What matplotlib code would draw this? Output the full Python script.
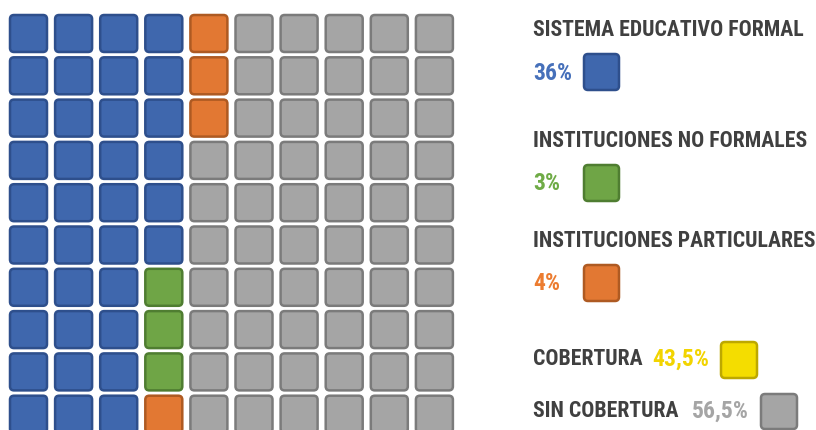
import matplotlib
matplotlib.use("Agg")
import matplotlib.pyplot as plt
from matplotlib.patches import FancyBboxPatch
from matplotlib import font_manager

# Data
categories = ["SISTEMA EDUCATIVO FORMAL", "INSTITUCIONES NO FORMALES",
              "INSTITUCIONES PARTICULARES", "SIN COBERTURA"]
cells = [36, 3, 4, 57]
pct_labels = ["36%", "3%", "4%"]
coverage_labels = ["COBERTURA", "SIN COBERTURA"]
coverage_values = ["43,5%", "56,5%"]

fills = ["#3F67AD", "#6FA546", "#E27833", "#A5A5A5"]
edges = ["#2E4F8C", "#4F7D31", "#AE5A22", "#7B7B7B"]
text_cols = ["#4670BA", "#6FAB46", "#EC7C30", "#A5A5A5"]
yellow_fill, yellow_edge, yellow_text = "#F4DD00", "#BDA800", "#F2D400"
dark = "#404040"


def pick_font():
    """Look for a narrow bold face, else fall back to DejaVu Sans bold"""
    files = [f.fname for f in font_manager.fontManager.ttflist]
    for key in ["OpenSansCondensed-Bold", "OpenSans_Condensed-Bold", "RobotoCondensed-Bold",
                "LiberationSansNarrow-Bold.", "DejaVuSansCondensed-Bold."]:
        for fn in files:
            if key in fn.replace(" ", ""):
                return font_manager.FontProperties(fname=fn)
    return font_manager.FontProperties(family="DejaVu Sans", weight="bold", stretch="condensed")


fp = pick_font()


def box(ax, x, y, w, h, fc, ec):
    ax.add_patch(FancyBboxPatch((x, y), w, h, boxstyle="round,pad=0,rounding_size=4",
                                fc=fc, ec=ec, lw=1.8))


fig = plt.figure(figsize=(8.16, 4.31), dpi=100)
ax = fig.add_axes([0, 0, 1, 1])
ax.set_xlim(0, 816)
ax.set_ylim(431, 0)
ax.axis("off")

# waffle grid, filled column by column
x0, y0, dx, dy, size = 10, 16, 45.1, 42.3, 37
k = 0
for cat, n in enumerate(cells):
    for _ in range(n):
        col, row = divmod(k, 10)
        box(ax, x0 + col * dx, y0 + row * dy, size, size, fills[cat], edges[cat])
        k += 1

# size the font so the first title spans about 272 px like the original
probe = ax.text(533, 30, categories[0], fontproperties=fp, fontsize=15.5)
fig.canvas.draw()
w = probe.get_window_extent().width
fs = 15.5 * 272 / w
probe.remove()


def label(x, y, s, c, scale=1.0):
    ax.text(x, y, s, fontproperties=fp, fontsize=fs * scale, color=c, va="center", ha="left")


# legend
tx = 533
title_y = [30, 141, 241]
for i in range(3):
    label(tx, title_y[i], categories[i], dark)
    label(tx, title_y[i] + 43, pct_labels[i], text_cols[i], 1.08)
    box(ax, 584, title_y[i] + 25, 35, 36, fills[i], edges[i])

label(tx, 359, coverage_labels[0], dark)
label(652, 359, coverage_values[0], yellow_text, 1.08)
box(ax, 721, 343, 36, 36, yellow_fill, yellow_edge)

label(tx, 411, coverage_labels[1], dark)
label(692, 411, coverage_values[1], text_cols[3], 1.08)
box(ax, 761, 395, 36, 35, fills[3], edges[3])

fig.savefig("out.png", dpi=100)
